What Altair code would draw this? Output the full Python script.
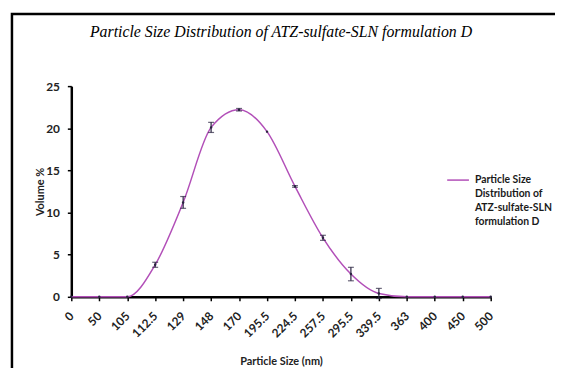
import json
import altair as alt
import pandas as pd

# ---- data ----
sizes = ["0", "50", "105", "112.5", "129", "148", "170", "195.5", "224.5",
         "257.5", "295.5", "339.5", "363", "400", "450", "500"]
volume = [0, 0, 0, 3.8, 11.2, 20.1, 22.2, 19.6, 13.1, 7.0, 2.7, 0.4, 0, 0, 0, 0]
errors = [0, 0, 0, 0.3, 0.7, 0.6, 0.15, 0, 0.1, 0.3, 0.8, 0.6, 0, 0, 0, 0]
legend_lines = ["Particle Size", "Distribution of", "ATZ-sulfate-SLN", "formulation D"]
series = " ".join(legend_lines)
title_text = "Particle Size Distribution of ATZ-sulfate-SLN formulation D"
y_ticks = [0, 5, 10, 15, 20, 25]

df = pd.DataFrame({"size": sizes, "volume": volume, "err": errors})
df["lo"] = df["volume"] - df["err"]
df["hi"] = df["volume"] + df["err"]
df["series"] = series

PURPLE = "#b24fb8"
DARK = "#2a2440"
FONT = "Lato"

x_enc = alt.X("size:N", sort=sizes,
              scale=alt.Scale(type="point", padding=0, domain=sizes),
              axis=alt.Axis(title="Particle Size (nm)", labelAngle=-45,
                            labelAlign="right", labelBaseline="middle",
                            labelPadding=13, titlePadding=16))
y_scale = alt.Scale(domain=[0, 25], nice=False)

base = alt.Chart(df)

line = base.mark_line(interpolate="monotone", strokeWidth=1.5).encode(
    x=x_enc,
    y=alt.Y("volume:Q", scale=y_scale,
            axis=alt.Axis(title="Volume %", values=y_ticks, labelPadding=8,
                          titlePadding=0)),
    color=alt.Color("series:N", scale=alt.Scale(range=[PURPLE]),
                    legend=alt.Legend(title=None, orient="none", legendX=379,
                                      legendY=83, padding=0,
                                      symbolType="stroke", symbolSize=484,
                                      symbolStrokeWidth=1.5,
                                      labelExpr=json.dumps(legend_lines),
                                      labelFont=FONT, labelFontSize=10.5,
                                      labelFontWeight="bold", labelColor="#1a1a1a",
                                      labelBaseline="middle",
                                      labelLimit=300, labelOffset=5)),
)

points = base.mark_point(filled=True, size=6, color=DARK, opacity=1).encode(
    x=alt.X("size:N", sort=sizes), y=alt.Y("volume:Q", scale=y_scale))

ebars = base.transform_filter(alt.datum.err > 0).mark_errorbar(
    ticks={"size": 6}, color=DARK, thickness=1.2).encode(
    x=alt.X("size:N", sort=sizes),
    y=alt.Y("lo:Q", scale=y_scale, title="Volume %"),
    y2="hi:Q")

frame = alt.Chart(alt.Data(values=[{}])).mark_rect(
    filled=False, stroke="black", strokeWidth=2.5).encode(
    x=alt.value(-60), x2=alt.value(530), y=alt.value(-73), y2=alt.value(320))

chart = alt.layer(frame, line, ebars, points).properties(
    width=424, height=213,
    autosize=alt.AutoSizeParams(type="none"),
    padding={"left": 64, "top": 77, "right": 65, "bottom": 70},
    title=alt.Title(title_text, font="Liberation Serif", fontStyle="italic",
                    fontWeight="normal", fontSize=16, color="black",
                    anchor="middle", offset=-28, frame="group"),
).configure(
    style={"guide-label": {"lineHeight": 14}},
).configure_view(stroke=None).configure_axis(
    domainColor="black", domainWidth=2.5, tickColor="black", tickWidth=1.5,
    tickSize=4, grid=False, labelFont=FONT, labelFontSize=12,
    labelFontWeight="bold", labelColor="#222222", titleFont=FONT,
    titleFontSize=11, titleFontWeight="bold", titleColor="#222222",
)

chart.save("out.html", embed_options={"renderer": "svg", "actions": False})
